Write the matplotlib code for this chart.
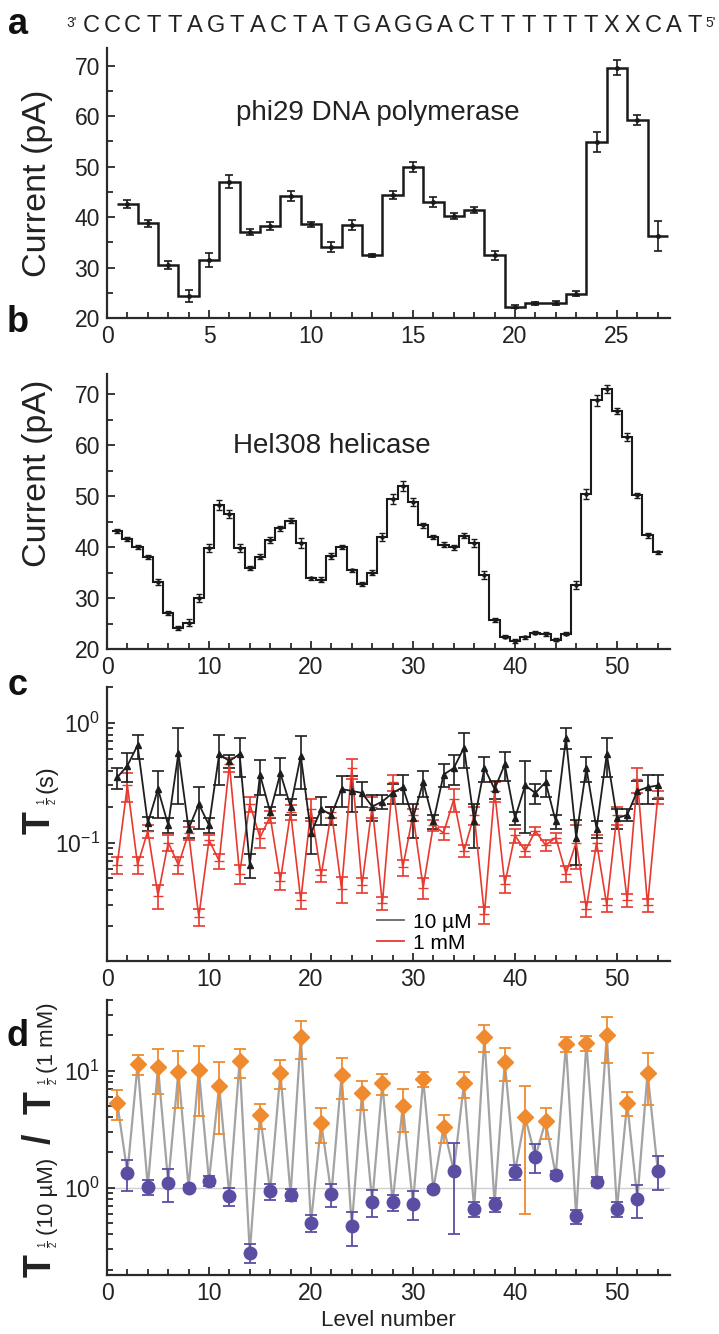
import numpy as np
import matplotlib
matplotlib.use("Agg")
import matplotlib.pyplot as plt
from matplotlib.ticker import MultipleLocator, FixedLocator, NullFormatter
from matplotlib.lines import Line2D

plt.rcParams['font.family'] = ['Liberation Sans', 'DejaVu Sans']
plt.rcParams['mathtext.fontset'] = 'custom'
plt.rcParams['mathtext.rm'] = 'Liberation Sans'
plt.rcParams['mathtext.bf'] = 'Liberation Sans:bold'
plt.rcParams['mathtext.it'] = 'Liberation Sans:italic'

# ---------------- data ----------------
sequence = "CCCTTAGTACTATGAGGACTTTTTTXXCAT"

# panel a: phi29 DNA polymerase
levels_a = np.arange(1, 28)
current_a = [42.5, 38.8, 30.5, 24.4, 31.5, 47.0, 37.0, 38.3, 44.2, 38.6,
             34.0, 38.5, 32.4, 44.3, 50.0, 43.0, 40.2, 41.4, 32.4, 22.2,
             22.9, 22.9, 24.8, 54.8, 69.6, 59.3, 36.2]
err_a = [0.8, 0.7, 0.8, 1.2, 1.3, 1.3, 0.6, 0.8, 1.0, 0.5,
         1.0, 1.0, 0.3, 0.8, 1.0, 1.0, 0.6, 0.6, 0.9, 0.3,
         0.3, 0.4, 0.5, 2.0, 1.5, 1.0, 3.0]

# panel b: Hel308 helicase
levels_b = np.arange(1, 55)
current_b = [43.2, 41.6, 40.0, 38.0, 33.2, 27.0, 24.2, 25.2, 30.0, 39.8,
             48.2, 46.5, 39.8, 35.9, 38.1, 41.4, 43.7, 45.2, 40.8, 33.9,
             33.6, 38.2, 40.0, 35.5, 32.7, 35.0, 42.0, 49.5, 52.0, 48.8,
             44.3, 42.0, 40.5, 40.0, 42.2, 40.8, 34.5, 25.7, 22.4, 21.6,
             22.3, 23.2, 23.0, 21.8, 23.0, 32.5, 50.5, 68.8, 71.0, 66.8,
             61.6, 50.2, 42.3, 39.0]
err_b = [0.4, 0.4, 0.4, 0.4, 0.6, 0.4, 0.4, 0.6, 0.8, 0.8,
         1.0, 0.8, 0.8, 0.3, 0.5, 0.5, 0.5, 0.5, 0.9, 0.3,
         0.5, 0.6, 0.4, 0.3, 0.4, 0.5, 0.8, 1.0, 1.0, 0.8,
         0.5, 0.4, 0.5, 0.5, 0.5, 0.8, 0.8, 0.4, 0.3, 0.4,
         0.3, 0.3, 0.4, 0.3, 0.3, 0.8, 1.0, 1.0, 0.8, 0.6,
         0.8, 0.5, 0.5, 0.3]

# panel c: dwell time T1/2 (s)
levels_c = np.arange(1, 55)
t_10uM = [0.35, 0.44, 0.65, 0.145, 0.28, 0.14, 0.56, 0.13, 0.21, 0.14,
          0.55, 0.48, 0.55, 0.065, 0.37, 0.18, 0.38, 0.20, 0.53, 0.12,
          0.19, 0.17, 0.28, 0.27, 0.26, 0.20, 0.22, 0.26, 0.29, 0.16,
          0.32, 0.15, 0.37, 0.42, 0.62, 0.15, 0.42, 0.28, 0.45, 0.16,
          0.30, 0.26, 0.32, 0.15, 0.75, 0.11, 0.42, 0.13, 0.55, 0.16,
          0.17, 0.27, 0.29, 0.30]
t_10uM_err = [0.07, 0.12, 0.15, 0.02, 0.12, 0.02, 0.35, 0.02, 0.08, 0.02,
              0.25, 0.06, 0.20, 0.015, 0.12, 0.02, 0.13, 0.03, 0.25, 0.04,
              0.05, 0.03, 0.08, 0.09, 0.06, 0.05, 0.03, 0.05, 0.08, 0.05,
              0.08, 0.02, 0.08, 0.12, 0.20, 0.06, 0.10, 0.05, 0.12, 0.02,
              0.18, 0.05, 0.08, 0.02, 0.15, 0.045, 0.10, 0.02, 0.20, 0.03,
              0.02, 0.06, 0.08, 0.07]
t_1mM = [0.065, 0.30, 0.065, 0.125, 0.036, 0.10, 0.065, 0.12, 0.024, 0.105,
         0.070, 0.45, 0.055, 0.21, 0.11, 0.165, 0.048, 0.18, 0.033, 0.19,
         0.053, 0.18, 0.041, 0.42, 0.044, 0.20, 0.031, 0.32, 0.062, 0.17,
         0.042, 0.14, 0.12, 0.23, 0.085, 0.17, 0.025, 0.27, 0.045, 0.115,
         0.085, 0.125, 0.095, 0.11, 0.055, 0.10, 0.028, 0.10, 0.030, 0.17,
         0.033, 0.34, 0.030, 0.24]
t_1mM_err = [0.01, 0.08, 0.01, 0.015, 0.008, 0.015, 0.01, 0.015, 0.004, 0.01,
             0.01, 0.06, 0.01, 0.03, 0.02, 0.02, 0.008, 0.025, 0.005, 0.04,
             0.006, 0.02, 0.01, 0.08, 0.006, 0.04, 0.004, 0.05, 0.01, 0.02,
             0.008, 0.015, 0.015, 0.05, 0.01, 0.03, 0.004, 0.05, 0.007, 0.015,
             0.01, 0.01, 0.01, 0.01, 0.008, 0.04, 0.004, 0.015, 0.004, 0.03,
             0.004, 0.08, 0.004, 0.03]

# panel d: ratio T1/2(10 uM) / T1/2(1 mM)
levels_odd = np.arange(1, 54, 2)
ratio_odd = [5.3, 11.3, 10.8, 9.8, 10.1, 7.4, 12.0, 4.2, 9.6, 19.5,
             3.6, 9.2, 6.4, 7.8, 5.0, 8.5, 3.3, 7.8, 19.5, 11.8,
             4.0, 3.7, 16.8, 17.3, 20.0, 5.3, 9.6]
ratio_odd_err = [1.5, 2.2, 4.5, 5.0, 6.0, 4.5, 3.3, 1.0, 2.7, 7.0,
                 1.2, 3.5, 1.8, 1.6, 2.0, 1.2, 0.9, 2.0, 5.0, 3.7,
                 3.4, 1.1, 2.5, 2.5, 8.5, 1.2, 4.5]
levels_even = np.arange(2, 55, 2)
ratio_even = [1.34, 1.02, 1.10, 1.00, 1.15, 0.85, 0.28, 0.93, 0.87, 0.50,
              0.88, 0.47, 0.76, 0.75, 0.73, 0.97, 1.40, 0.66, 0.72, 1.37,
              1.84, 1.28, 0.57, 1.13, 0.66, 0.80, 1.40]
ratio_even_err = [0.40, 0.15, 0.35, 0.05, 0.12, 0.15, 0.05, 0.15, 0.10, 0.08,
                  0.20, 0.15, 0.20, 0.12, 0.20, 0.05, 1.00, 0.10, 0.10, 0.20,
                  0.50, 0.10, 0.08, 0.10, 0.10, 0.25, 0.45]

# ---------------- figure ----------------
W, H = 719, 1334
fig = plt.figure(figsize=(W / 100, H / 100), dpi=100)

def px_axes(left, top, right, bottom):
    return fig.add_axes([left / W, 1 - bottom / H, (right - left) / W, (bottom - top) / H])

SPC = '#2a2a2a'
TXT = '#222222'
def style(ax):
    for s in ['top', 'right']:
        ax.spines[s].set_visible(False)
    for s in ['left', 'bottom']:
        ax.spines[s].set_linewidth(1.6)
        ax.spines[s].set_color(SPC)
    ax.tick_params(which='both', direction='in', color=SPC, width=1.3,
                   labelsize=16.5, labelcolor=TXT)
    ax.tick_params(which='major', length=6, pad=5)
    ax.tick_params(which='minor', length=4)

LABX = -(107 - 53) / 563

# panel a
axa = px_axes(107, 48, 670, 318)
style(axa)
edges_a = np.append(levels_a - 0.5, levels_a[-1] + 0.5)
axa.stairs(current_a, edges_a, baseline=None, color='#1a1a1a', lw=1.8)
axa.errorbar(levels_a, current_a, yerr=err_a, fmt='o', ms=2.5, color='#1a1a1a',
             capsize=3, elinewidth=1.2, capthick=1.2)
axa.set_xlim(0, 27.6)
axa.set_ylim(20, 73.5)
axa.xaxis.set_major_locator(MultipleLocator(5))
axa.xaxis.set_minor_locator(MultipleLocator(1))
axa.yaxis.set_major_locator(MultipleLocator(10))
axa.yaxis.set_minor_locator(MultipleLocator(5))
axa.set_ylabel('Current (pA)', fontsize=24.5, color=TXT)
axa.yaxis.set_label_coords(LABX, 0.5)
axa.text(0.481, 0.759, 'phi29 DNA polymerase', transform=axa.transAxes,
         ha='center', va='center', fontsize=20, color=TXT)

# panel b
axb = px_axes(107, 374, 670, 649)
style(axb)
edges_b = np.append(levels_b - 0.5, levels_b[-1] + 0.5)
axb.stairs(current_b, edges_b, baseline=None, color='#1a1a1a', lw=1.5)
axb.errorbar(levels_b, current_b, yerr=err_b, fmt='o', ms=2.2, color='#1a1a1a',
             capsize=2, elinewidth=1.0, capthick=1.0)
axb.set_xlim(0, 55.2)
axb.set_ylim(20, 74)
axb.xaxis.set_major_locator(MultipleLocator(10))
axb.xaxis.set_minor_locator(MultipleLocator(2))
axb.yaxis.set_major_locator(MultipleLocator(10))
axb.yaxis.set_minor_locator(MultipleLocator(5))
axb.set_ylabel('Current (pA)', fontsize=24.5, color=TXT)
axb.yaxis.set_label_coords(LABX, 0.64)
axb.text(0.40, 0.738, 'Hel308 helicase', transform=axb.transAxes,
         ha='center', va='center', fontsize=20, color=TXT)

# panel c
axc = px_axes(107, 687, 670, 961)
style(axc)
axc.set_yscale('log')
axc.errorbar(levels_c, t_1mM, yerr=t_1mM_err, fmt='-', marker='_', ms=7,
             color='#e8392f', lw=1.2, capsize=4, elinewidth=1.2, capthick=1.2)
axc.errorbar(levels_c, t_10uM, yerr=t_10uM_err, fmt='-^', ms=4, color='#1e1e1e',
             lw=1.3, capsize=4, elinewidth=1.2, capthick=1.2)
axc.set_xlim(0, 55.2)
axc.set_ylim(0.0102, 2)
axc.xaxis.set_major_locator(MultipleLocator(10))
axc.xaxis.set_minor_locator(MultipleLocator(2))
axc.yaxis.set_major_locator(FixedLocator([0.1, 1]))
axc.yaxis.set_minor_locator(FixedLocator(
    [k * 0.01 for k in range(2, 10)] + [k * 0.1 for k in range(2, 10)] + [2]))
axc.yaxis.set_minor_formatter(NullFormatter())
handles = [Line2D([], [], color='#666666', lw=1.3), Line2D([], [], color='#e8392f', lw=1.3)]
axc.legend(handles, ['10 µM', '1 mM'], loc='lower left', bbox_to_anchor=(0.48, 0.03),
           frameon=False, fontsize=15, handlelength=1.3, handletextpad=0.4,
           labelspacing=0.1, borderpad=0, borderaxespad=0)

# panel d
axd = px_axes(107, 1000, 670, 1275)
style(axd)
axd.set_yscale('log')
axd.axhline(1, color='#cfcfcf', lw=1.0, zorder=0)
lev_all = np.concatenate([levels_odd, levels_even])
rat_all = np.concatenate([ratio_odd, ratio_even])
order = np.argsort(lev_all)
axd.plot(lev_all[order], rat_all[order], color='#a3a3a3', lw=1.6, zorder=1)
axd.errorbar(levels_odd, ratio_odd, yerr=ratio_odd_err, fmt='D', ms=8,
             color='#ef8a2e', capsize=4, elinewidth=1.3, capthick=1.3, zorder=3)
axd.errorbar(levels_even, ratio_even, yerr=ratio_even_err, fmt='o', ms=9,
             color='#5a4ea3', capsize=4, elinewidth=1.3, capthick=1.3, zorder=3)
axd.set_xlim(0, 55.2)
axd.set_ylim(0.18, 40)
axd.xaxis.set_major_locator(MultipleLocator(10))
axd.xaxis.set_minor_locator(MultipleLocator(2))
axd.yaxis.set_major_locator(FixedLocator([1, 10]))
axd.yaxis.set_minor_locator(FixedLocator(
    [k * 0.1 for k in range(2, 10)] + list(range(2, 10)) + [20, 30, 40]))
axd.yaxis.set_minor_formatter(NullFormatter())
axd.set_xlabel('Level number', fontsize=16, color=TXT, labelpad=4)

# composite rotated y-labels for panels c and d (big bold T with small 1/2)
def vtext(xpx, ypx, s, size, bold=False):
    fig.text(xpx / W, 1 - ypx / H, s, rotation=90, rotation_mode='anchor',
             ha='center', va='baseline', fontsize=size, color=TXT,
             fontweight='bold' if bold else 'normal')

# panel c label
vtext(50, 823, 'T', 27, bold=True)
vtext(53, 801, r'$\frac{1}{2}$', 10)
vtext(52, 779, '(s)', 17)

# panel d label
vtext(51, 1266, 'T', 27, bold=True)
vtext(54, 1244, r'$\frac{1}{2}$', 10)
vtext(53, 1196, '(10 µM)', 16)
vtext(50, 1139, '/', 27, bold=True)
vtext(51, 1103, 'T', 27, bold=True)
vtext(54, 1081, r'$\frac{1}{2}$', 10)
vtext(53, 1038, '(1 mM)', 16)

# panel letters
for lab, y in [('a', 24), ('b', 322), ('c', 686), ('d', 1036)]:
    fig.text(18 / W, 1 - y / H, lab, fontsize=26, fontweight='bold',
             ha='center', va='center', color='#111')

# sequence
yseq = 1 - 26 / H
fig.text(72 / W, yseq + 0.002, "3'", fontsize=10, ha='center', va='center', color=TXT)
x0, x1 = 91, 695
for i, ch in enumerate(sequence):
    xp = x0 + (x1 - x0) * i / (len(sequence) - 1)
    fig.text(xp / W, yseq, ch, fontsize=17, ha='center', va='center', color=TXT)
fig.text(711 / W, yseq + 0.002, "5'", fontsize=10, ha='center', va='center', color=TXT)

fig.savefig('out.png', dpi=100)
